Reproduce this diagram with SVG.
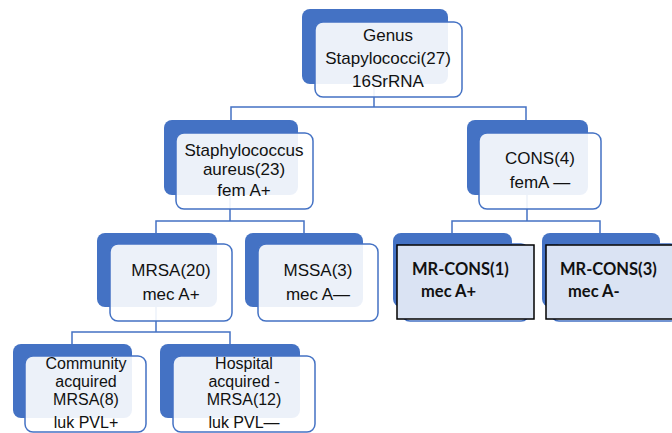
<svg xmlns="http://www.w3.org/2000/svg" width="672" height="433" viewBox="0 0 672 433">
<style>
.back{fill:#4472C4}
.front{fill:#ffffff;fill-opacity:0.9;stroke:#4472C4;stroke-width:1.5}
.sq{fill:#DAE3F3;stroke:#000;stroke-width:1.5}
.conn{fill:none;stroke:#4472C4;stroke-width:1.5}
.t{font-family:"Liberation Sans",Arial,sans-serif;font-size:17px;fill:#111;text-anchor:middle}
.s{font-size:16px}
.b{font-family:Lato,"Liberation Sans",sans-serif;font-size:16.5px;font-weight:bold;fill:#111}
</style>
<rect width="672" height="433" fill="#fff"/>
<g id="connectors">
<path class="conn" d="M374,83 V107 M231,120 V107 H526 V120"/>
<path class="conn" d="M230,195 V221 M156,233 V221 H304 V233"/>
<path class="conn" d="M527,195 V221 M452,233 V221 H600 V233"/>
<path class="conn" d="M156,307 V332 M72,344 V332 H230 V344"/>
</g>
<g id="genus">
<rect class="back" x="302" y="9" width="146" height="75" rx="8"/>
<rect class="front" x="315" y="22" width="147" height="75" rx="8"/>
<text class="t" x="388" y="41">Genus</text>
<text class="t" x="388" y="64">Stapylococci(27)</text>
<text class="t" x="388" y="87">16SrRNA</text>
</g>
<g id="staph">
<rect class="back" x="164" y="120" width="134" height="75" rx="8"/>
<rect class="front" x="176" y="133" width="137" height="76" rx="8"/>
<text class="t" x="244" y="156">Staphylococcus</text>
<text class="t" x="244" y="175">aureus(23)</text>
<text class="t" x="244" y="196">fem A+</text>
</g>
<g id="cons">
<rect class="back" x="467" y="120" width="121" height="75" rx="8"/>
<rect class="front" x="479" y="133" width="122" height="76" rx="8"/>
<text class="t" x="540" y="164">CONS(4)</text>
<text class="t" x="540" y="188">femA —</text>
</g>
<g id="mrsa">
<rect class="back" x="97" y="233" width="120" height="74" rx="8"/>
<rect class="front" x="110" y="244" width="122" height="77" rx="8"/>
<text class="t" x="171" y="276">MRSA(20)</text>
<text class="t" x="171" y="300">mec A+</text>
</g>
<g id="mssa">
<rect class="back" x="245" y="233" width="118" height="74" rx="8"/>
<rect class="front" x="258" y="244" width="120" height="77" rx="8"/>
<text class="t" x="318" y="276">MSSA(3)</text>
<text class="t" x="318" y="300">mec A—</text>
</g>
<g id="mrcons1">
<rect class="back" x="393" y="233" width="119" height="74" rx="8"/>
<rect class="front" x="402" y="244" width="127" height="77" rx="8"/>
<rect class="sq" x="397" y="245" width="137" height="74"/>
<text class="b" x="412" y="275">MR-CONS(1)</text>
<text class="b" x="421" y="297">mec A+</text>
</g>
<g id="mrcons3">
<rect class="back" x="542" y="233" width="118" height="74" rx="8"/>
<rect class="front" x="551" y="244" width="127" height="77" rx="8"/>
<rect class="sq" x="546" y="245" width="130" height="74"/>
<text class="b" x="560" y="275">MR-CONS(3)</text>
<text class="b" x="568" y="297">mec A-</text>
</g>
<g id="community">
<rect class="back" x="13" y="344" width="119" height="74" rx="8"/>
<rect class="front" x="25" y="356" width="121" height="76" rx="8"/>
<text class="t s" x="86" y="369">Community</text>
<text class="t s" x="86" y="387">acquired</text>
<text class="t s" x="86" y="405">MRSA(8)</text>
<text class="t s" x="86" y="428">luk PVL+</text>
</g>
<g id="hospital">
<rect class="back" x="160" y="344" width="140" height="74" rx="8"/>
<rect class="front" x="173" y="356" width="142" height="76" rx="8"/>
<text class="t s" x="244" y="369">Hospital</text>
<text class="t s" x="244" y="387">acquired -</text>
<text class="t s" x="244" y="405">MRSA(12)</text>
<text class="t s" x="244" y="428">luk PVL—</text>
</g>
</svg>
